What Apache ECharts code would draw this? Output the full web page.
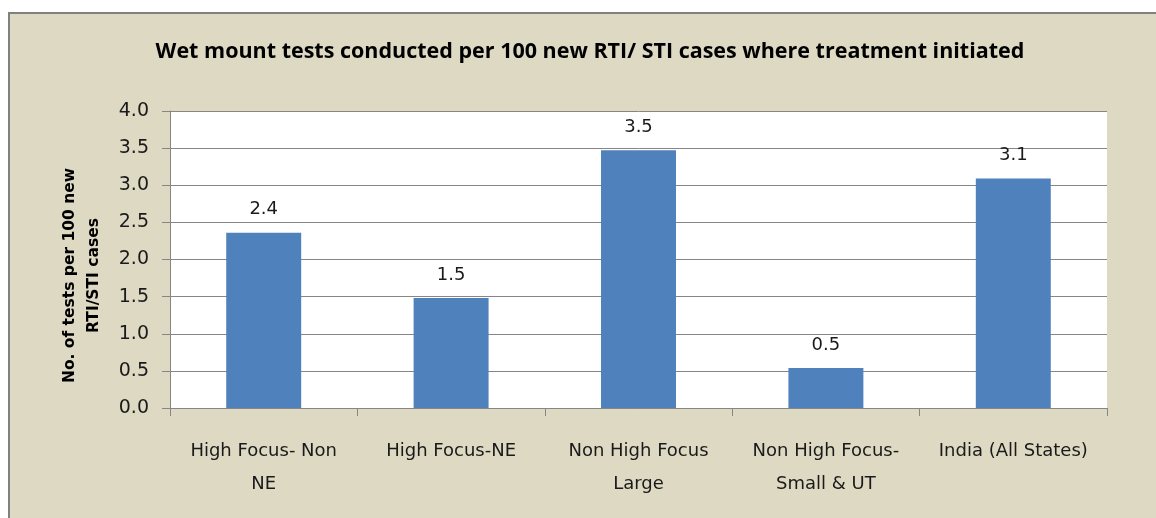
<!DOCTYPE html>
<html>
<head>
<meta charset="utf-8">
<script src="https://cdn.jsdelivr.net/npm/echarts@6/dist/echarts.min.js"></script>
<style>
  html, body { margin: 0; padding: 0; background: #fff; }
  #frame {
    position: absolute; left: 8px; top: 12px; width: 1148px; height: 506px;
    background: #ddd9c3; border-left: 2px solid #808080; border-top: 2px solid #808080;
    box-sizing: border-box;
  }
  #chart { position: absolute; left: 0; top: 0; width: 1156px; height: 518px; }
</style>
</head>
<body>
<div id="frame"></div>
<div id="chart"></div>
<script>
var categories = ['High Focus- Non\nNE', 'High Focus-NE', 'Non High Focus\nLarge', 'Non High Focus-\nSmall & UT', 'India (All States)'];
var testsPer100 = [2.36, 1.48, 3.47, 0.54, 3.09];
var yTicks = [0, 0.5, 1, 1.5, 2, 2.5, 3, 3.5, 4];

var chart = echarts.init(document.getElementById('chart'));
var option = {
    backgroundColor: 'transparent',
    textStyle: { fontFamily: 'DejaVu Sans' },
    title: {
        text: 'Wet mount tests conducted per 100 new RTI/ STI cases where treatment initiated',
        left: 585,
        textAlign: 'center',
        top: 36,
        textStyle: { fontSize: 21.5, fontWeight: 'bold', color: '#000', fontFamily: 'Open Sans' }
    },
    grid: { left: 170, top: 111, right: 49, bottom: 110, show: true, backgroundColor: '#fff', borderWidth: 0 },
    xAxis: {
        type: 'category',
        data: categories,
        axisLine: { lineStyle: { color: '#868686', width: 1 } },
        axisTick: { show: true, length: 8, lineStyle: { color: '#868686' } },
        axisLabel: { fontSize: 18, color: '#1a1a1a', margin: 27, lineHeight: 33, interval: 0 }
    },
    yAxis: {
        type: 'value',
        min: 0,
        max: 4,
        interval: 0.5,
        name: 'No. of tests per 100 new\nRTI/STI cases',
        nameLocation: 'middle',
        nameGap: 64,
        nameTextStyle: { fontSize: 15.5, fontWeight: 'bold', color: '#000', lineHeight: 24, padding: [0, 32, 0, 0] },
        axisLine: { show: true, lineStyle: { color: '#868686' } },
        axisTick: { show: true, length: 8, lineStyle: { color: '#868686' } },
        splitLine: { lineStyle: { color: '#868686' } },
        axisLabel: {
            fontSize: 19, color: '#1a1a1a', margin: 21,
            formatter: function (v) { return yTicks.indexOf(v) >= 0 ? v.toFixed(1) : ''; }
        }
    },
    series: [{
        type: 'bar',
        data: testsPer100,
        barWidth: '40%',
        itemStyle: { color: '#4f81bd' },
        label: {
            show: true, position: 'top', distance: 14,
            fontSize: 18, color: '#1a1a1a',
            formatter: function (p) { return p.value.toFixed(1); }
        }
    }]
};
chart.setOption(option);
</script>
</body>
</html>
